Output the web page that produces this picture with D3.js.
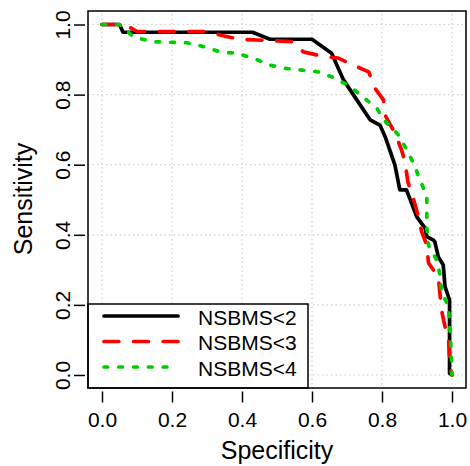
<!DOCTYPE html>
<html>
<head>
<meta charset="utf-8">
<title>ROC NSBMS</title>
<script src="https://d3js.org/d3.v7.min.js"></script>
<style>
  body { margin: 0; background: #ffffff; }
  text { font-family: "Liberation Sans", Arial, sans-serif; fill: #000; }
</style>
</head>
<body>
<div id="chart"></div>
<script>
// tick values
var ticks = [0, 0.2, 0.4, 0.6, 0.8, 1.0];

// series names
var seriesNames = ["NSBMS<2", "NSBMS<3", "NSBMS<4"];

// NSBMS<2 (specificity, sensitivity)
var spec2 = [0, 0.05, 0.06, 0.43, 0.48, 0.60, 0.656, 0.69, 0.728, 0.766, 0.794, 0.809, 0.837, 0.851, 0.87, 0.899, 0.923, 0.928, 0.947, 0.951, 0.961, 0.975, 0.98, 0.993, 0.993, 1];
var sens2 = [1, 1, 0.978, 0.978, 0.958, 0.958, 0.918, 0.842, 0.785, 0.728, 0.713, 0.68, 0.599, 0.528, 0.528, 0.452, 0.419, 0.395, 0.385, 0.38, 0.337, 0.314, 0.252, 0.214, 0.005, 0];

// NSBMS<3
var spec3 = [0, 0.066, 0.1, 0.3, 0.35, 0.394, 0.546, 0.575, 0.628, 0.675, 0.718, 0.762, 0.78, 0.804, 0.811, 0.837, 0.856, 0.866, 0.874, 0.889, 0.903, 0.913, 0.928, 0.933, 0.961, 0.966, 0.97, 0.98, 0.99, 0.994, 1];
var sens3 = [1, 1, 0.98, 0.98, 0.967, 0.958, 0.951, 0.922, 0.91, 0.904, 0.884, 0.865, 0.818, 0.785, 0.737, 0.69, 0.642, 0.605, 0.551, 0.505, 0.456, 0.409, 0.371, 0.319, 0.28, 0.228, 0.185, 0.138, 0.109, 0.024, 0];

// NSBMS<4
var spec4 = [0, 0.05, 0.09, 0.142, 0.242, 0.29, 0.337, 0.385, 0.432, 0.48, 0.523, 0.571, 0.618, 0.666, 0.709, 0.751, 0.785, 0.81, 0.847, 0.871, 0.89, 0.909, 0.928, 0.928, 0.933, 0.956, 0.966, 0.97, 0.99, 0.993, 0.996, 1];
var sens4 = [1, 1, 0.965, 0.951, 0.948, 0.937, 0.922, 0.918, 0.904, 0.884, 0.875, 0.87, 0.865, 0.847, 0.823, 0.789, 0.761, 0.723, 0.685, 0.642, 0.604, 0.556, 0.509, 0.42, 0.37, 0.328, 0.285, 0.238, 0.195, 0.147, 0.1, 0];

var width = 470, height = 466;
var lw = 3.7;

var svg = d3.select('#chart').append('svg')
  .attr('width', width).attr('height', height);

svg.append('rect').attr('width', width).attr('height', height).attr('fill', '#fff');

// plot box 88..466 x 11..388, data 0..1 with 4% padding
var x = d3.scaleLinear().domain([-0.04, 1.04]).range([88, 466]);
var y = d3.scaleLinear().domain([-0.04, 1.04]).range([389, 10.5]);

// grid
svg.selectAll('.gx').data(ticks).enter().append('line')
  .attr('x1', d => x(d)).attr('x2', d => x(d))
  .attr('y1', y.range()[0]).attr('y2', y.range()[1])
  .attr('stroke', '#cfcfcf').attr('stroke-width', 1.2).attr('stroke-dasharray', '1.5,3');
svg.selectAll('.gy').data(ticks).enter().append('line')
  .attr('y1', d => y(d)).attr('y2', d => y(d))
  .attr('x1', x.range()[0]).attr('x2', x.range()[1])
  .attr('stroke', '#cfcfcf').attr('stroke-width', 1.2).attr('stroke-dasharray', '1.5,3');

// curves
var curves = [
  { spec: spec2, sens: sens2, color: '#000000', dash: null },
  { spec: spec3, sens: sens3, color: '#ff0000', dash: (4 * lw) + ',' + (4 * lw) },
  { spec: spec4, sens: sens4, color: '#00cd00', dash: lw + ',' + (3 * lw) }
];

var line = d3.line().x(d => x(d[0])).y(d => y(d[1]));

curves.forEach(function (c) {
  var pts = c.spec.map((s, i) => [s, c.sens[i]]);
  svg.append('path')
    .attr('d', line(pts))
    .attr('fill', 'none')
    .attr('stroke', c.color)
    .attr('stroke-width', lw)
    .attr('stroke-linecap', 'round')
    .attr('stroke-linejoin', 'round')
    .attr('stroke-dasharray', c.dash);
});

// legend box (bottomleft)
var lg = svg.append('g');
lg.append('rect')
  .attr('x', 88).attr('y', 304).attr('width', 220).attr('height', 84)
  .attr('fill', '#fff').attr('stroke', '#000').attr('stroke-width', 1.5);

seriesNames.forEach(function (name, i) {
  var ly = 316 + i * 25.5;
  lg.append('line')
    .attr('x1', 104).attr('x2', 178).attr('y1', ly).attr('y2', ly)
    .attr('stroke', curves[i].color).attr('stroke-width', lw)
    .attr('stroke-linecap', 'round')
    .attr('stroke-dasharray', curves[i].dash);
  lg.append('text')
    .attr('x', 198).attr('y', ly + 8.5)
    .attr('font-size', 21)
    .text(name);
});

// plot box
svg.append('rect')
  .attr('x', 88).attr('y', 11).attr('width', 378).attr('height', 377)
  .attr('fill', 'none').attr('stroke', '#000').attr('stroke-width', 1.5);

// axes
var xAxis = svg.append('g')
  .attr('transform', 'translate(0,391.5)')
  .call(d3.axisBottom(x).tickValues(ticks).tickSize(11).tickFormat(d3.format('.1f')));
xAxis.select('.domain').remove();
xAxis.selectAll('line').attr('stroke', '#000').attr('stroke-width', 1.5);
xAxis.selectAll('text')
  .attr('y', 35.5).attr('dy', 0)
  .attr('font-size', 21).attr('font-family', '"Liberation Sans", Arial, sans-serif')
  .attr('fill', '#000');

var yAxis = svg.append('g')
  .attr('transform', 'translate(85,0)')
  .call(d3.axisLeft(y).tickValues(ticks).tickSize(11).tickFormat(d3.format('.1f')));
yAxis.select('.domain').remove();
yAxis.selectAll('line').attr('stroke', '#000').attr('stroke-width', 1.5);
yAxis.selectAll('text')
  .attr('x', 0).attr('dy', 0)
  .attr('text-anchor', 'middle')
  .attr('transform', 'translate(-15,0) rotate(-90)')
  .attr('font-size', 21).attr('font-family', '"Liberation Sans", Arial, sans-serif')
  .attr('fill', '#000');

// axis titles
svg.append('text')
  .attr('x', 277).attr('y', 459)
  .attr('text-anchor', 'middle')
  .attr('font-size', 25)
  .text('Specificity');

svg.append('text')
  .attr('transform', 'translate(32,199) rotate(-90)')
  .attr('text-anchor', 'middle')
  .attr('font-size', 25)
  .text('Sensitivity');
</script>
</body>
</html>
